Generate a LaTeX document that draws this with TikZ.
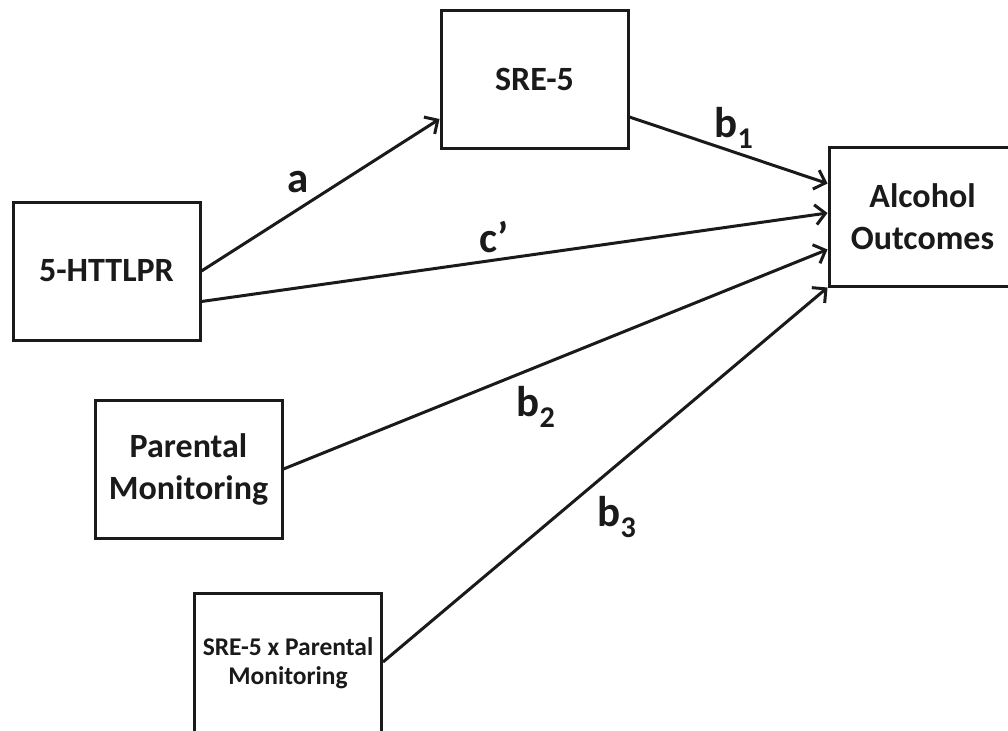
\documentclass[tikz,border=0pt]{standalone}
\usepackage{fontspec}
\setmainfont{Carlito}
\usetikzlibrary{arrows.meta,calc}

\begin{document}
\begin{tikzpicture}[x=1pt, y=-1pt]
    \definecolor{lineColour}{HTML}{1A1A1A}

    \tikzset{
        varbox/.style={draw=lineColour, line width=3pt, minimum width=187pt, minimum height=138pt,
            align=center, font=\bfseries\fontsize{34}{42}\selectfont, text=lineColour},
        path/.style={draw=lineColour, line width=3pt, -{Straight Barb[length=10pt,width=20pt,line width=3pt]}},
        coef/.style={font=\bfseries\fontsize{43}{50}\selectfont, text=lineColour}
    }

    \useasboundingbox (0,0) rectangle (1008,730);

    % Draw boxes
    \node[varbox] (sre) at (534.5,79.5) {SRE-5};
    \node[varbox] (gene) at (106.5,271) {5-HTTLPR};
    \node[varbox] (pm) at (188.5,469) {Parental\\Monitoring};
    \node[varbox, minimum height=141pt, font=\bfseries\fontsize{25.5}{30}\selectfont] (inter) at (288,663.5) {SRE-5 x Parental\\[-1pt]Monitoring};
    \node[varbox] (alc) at (922.5,217) {Alcohol\\Outcomes};

    % Draw paths
    \draw[path] (gene.east) -- ($(sre.south west)+(0,-31)$);
    \draw[path] ($(sre.south east)+(0,-33)$) -- ($(alc.north west)+(0,37)$);
    \draw[path] ($(gene.south east)+(0,-40)$) -- ($(alc.west)+(0,-4)$);
    \draw[path] (pm.east) -- ($(alc.south west)+(0,-38)$);
    \draw[path] ($(inter.east)+(0,-1.5)$) -- (alc.south west);

    % Label paths
    \node[coef] (la) at (298,182) {a};
    \node[coef] (lc) at (494,237) {c’};
    \node[coef] (lb1) at (734,128) {b\textsubscript{1}};
    \node[coef] (lb2) at (536,407) {b\textsubscript{2}};
    \node[coef] (lb3) at (617,517) {b\textsubscript{3}};

\end{tikzpicture}
\end{document}
